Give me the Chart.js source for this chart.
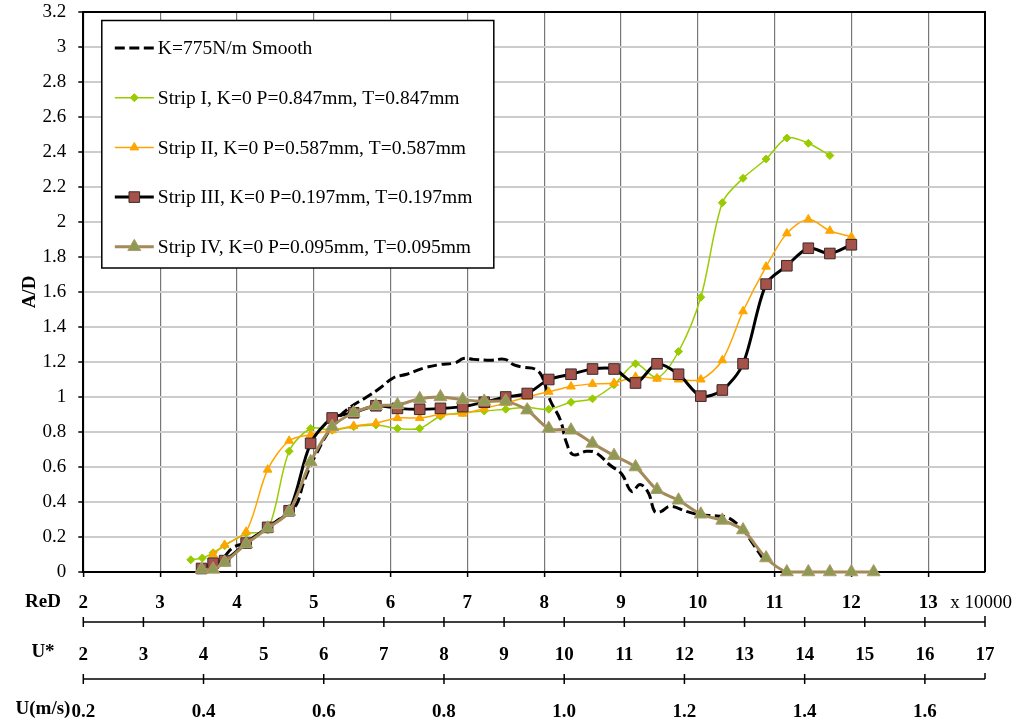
<!DOCTYPE html>
<html>
<head>
<meta charset="utf-8">
<script src="https://cdn.jsdelivr.net/npm/chart.js"></script>
<style>
  html, body { margin: 0; padding: 0; background: #fff; }
  #wrap { width: 1020px; height: 726px; }
</style>
</head>
<body>
<div id="wrap"><canvas id="amp" width="1020" height="726"></canvas></div>
<script>
// ReD values are in units of 10^4
const smoothRe = [3.84, 3.95, 4.12, 4.40, 4.68, 4.78, 4.86, 4.95, 5.04, 5.15, 5.30, 5.47, 5.69, 5.86, 6.04, 6.21, 6.43, 6.64, 6.84, 6.95, 7.08, 7.30, 7.49, 7.60, 7.73, 7.88, 7.97, 8.08, 8.21, 8.29, 8.38, 8.55, 8.68, 8.86, 9.01, 9.14, 9.25, 9.36, 9.44, 9.52, 9.64, 9.86, 10.03, 10.25, 10.40, 10.59, 10.72, 10.86];
const smoothAD = [0.09, 0.14, 0.17, 0.255, 0.345, 0.39, 0.50, 0.60, 0.68, 0.77, 0.87, 0.94, 1.00, 1.05, 1.11, 1.13, 1.165, 1.185, 1.195, 1.22, 1.215, 1.21, 1.215, 1.185, 1.17, 1.16, 1.12, 0.98, 0.87, 0.74, 0.67, 0.69, 0.68, 0.61, 0.56, 0.46, 0.50, 0.45, 0.345, 0.345, 0.375, 0.345, 0.327, 0.32, 0.31, 0.24, 0.16, 0.07];

const strip1Re = [3.40, 3.55, 3.69, 3.84, 4.12, 4.40, 4.68, 4.96, 5.24, 5.52, 5.81, 6.09, 6.38, 6.65, 6.94, 7.22, 7.50, 7.78, 8.06, 8.35, 8.63, 8.91, 9.19, 9.47, 9.75, 10.04, 10.32, 10.59, 10.89, 11.16, 11.44, 11.72];
const strip1AD = [0.07, 0.08, 0.11, 0.15, 0.22, 0.24, 0.69, 0.82, 0.81, 0.83, 0.84, 0.82, 0.82, 0.89, 0.91, 0.92, 0.93, 0.94, 0.93, 0.97, 0.99, 1.07, 1.19, 1.11, 1.26, 1.57, 2.11, 2.25, 2.36, 2.48, 2.45, 2.38];

const strip2Re = [3.69, 3.84, 4.12, 4.40, 4.68, 4.96, 5.24, 5.52, 5.81, 6.09, 6.38, 6.65, 6.94, 7.22, 7.50, 7.78, 8.06, 8.35, 8.63, 8.91, 9.19, 9.47, 9.75, 10.04, 10.32, 10.59, 10.89, 11.16, 11.44, 11.72, 12.00];
const strip2AD = [0.10, 0.155, 0.23, 0.585, 0.75, 0.785, 0.81, 0.835, 0.85, 0.88, 0.88, 0.90, 0.905, 0.935, 0.965, 1.00, 1.03, 1.06, 1.075, 1.08, 1.115, 1.105, 1.10, 1.10, 1.21, 1.49, 1.745, 1.935, 2.015, 1.95, 1.915];

const strip3Re = [3.54, 3.69, 3.84, 4.12, 4.40, 4.68, 4.96, 5.24, 5.52, 5.81, 6.09, 6.38, 6.65, 6.94, 7.22, 7.50, 7.78, 8.06, 8.35, 8.63, 8.91, 9.19, 9.47, 9.75, 10.04, 10.32, 10.59, 10.89, 11.16, 11.44, 11.72, 12.00];
const strip3AD = [0.02, 0.05, 0.065, 0.165, 0.255, 0.35, 0.735, 0.88, 0.91, 0.95, 0.935, 0.93, 0.935, 0.945, 0.97, 1.00, 1.02, 1.10, 1.13, 1.16, 1.16, 1.08, 1.19, 1.13, 1.005, 1.04, 1.19, 1.645, 1.75, 1.85, 1.82, 1.87];

const strip4Re = [3.54, 3.69, 3.84, 4.12, 4.40, 4.68, 4.96, 5.24, 5.52, 5.81, 6.09, 6.38, 6.65, 6.94, 7.22, 7.50, 7.78, 8.06, 8.35, 8.63, 8.91, 9.19, 9.47, 9.75, 10.04, 10.32, 10.59, 10.89, 11.16, 11.44, 11.72, 12.00, 12.29];
const strip4AD = [0.015, 0.015, 0.055, 0.16, 0.25, 0.345, 0.63, 0.83, 0.91, 0.95, 0.955, 0.99, 1.00, 0.985, 0.975, 0.975, 0.925, 0.82, 0.81, 0.735, 0.665, 0.60, 0.47, 0.41, 0.33, 0.295, 0.24, 0.08, 0, 0, 0, 0, 0];

const seriesNames = [
    'K=775N/m Smooth',
    'Strip I, K=0 P=0.847mm, T=0.847mm',
    'Strip II, K=0 P=0.587mm, T=0.587mm',
    'Strip III, K=0 P=0.197mm, T=0.197mm',
    'Strip IV, K=0 P=0.095mm, T=0.095mm'
];

// three stacked x axes: ReD (x 10000), U* and U(m/s)
const reRange = [2, 13.74];
const uStarRange = [2, 17];
const uRange = [0.2, 1.7];
const axisNames = ['ReD', 'U*', 'U(m/s)'];

const SERIF = '"Liberation Serif", "Times New Roman", serif';
const FS = 19;
Chart.defaults.font.family = SERIF;
Chart.defaults.color = '#000';

const pts = (xs, ys) => xs.map((x, i) => ({ x: x, y: ys[i] }));

const datasets = [
    {
        label: seriesNames[0], data: pts(smoothRe, smoothAD),
        borderColor: '#000', borderWidth: 3, borderDash: [10, 4.5],
        pointRadius: 0, tension: 0.4, order: 5
    },
    {
        label: seriesNames[1], data: pts(strip1Re, strip1AD),
        borderColor: '#99CC00', borderWidth: 1.5,
        pointStyle: 'rectRot', pointRadius: 4, pointBackgroundColor: '#99CC00',
        pointBorderColor: '#99CC00', pointBorderWidth: 1, tension: 0.3, order: 4
    },
    {
        label: seriesNames[2], data: pts(strip2Re, strip2AD),
        borderColor: '#FFA500', borderWidth: 1.5,
        pointStyle: 'triangle', pointRadius: 5, pointBackgroundColor: '#FFA500',
        pointBorderColor: '#FFA500', pointBorderWidth: 1, tension: 0.3, order: 3
    },
    {
        label: seriesNames[3], data: pts(strip3Re, strip3AD),
        borderColor: '#000', borderWidth: 3,
        pointStyle: 'rect', pointRadius: 7.5, pointBackgroundColor: '#A5524B',
        pointBorderColor: '#3A2A28', pointBorderWidth: 1, tension: 0.3, order: 2
    },
    {
        label: seriesNames[4], data: pts(strip4Re, strip4AD),
        borderColor: '#A38A58', borderWidth: 3,
        pointStyle: 'triangle', pointRadius: 7.5, pointBackgroundColor: '#8C9A53',
        pointBorderColor: '#B09A6A', pointBorderWidth: 1, tension: 0.3, order: 1
    }
];
datasets.forEach(d => { d.clip = false; d.fill = false; });

// top and right edges of the plot frame
const plotFrame = {
    id: 'plotFrame',
    beforeDatasetsDraw(chart) {
        const { ctx, chartArea: a } = chart;
        ctx.save();
        ctx.strokeStyle = '#000';
        ctx.lineWidth = 2;
        ctx.beginPath();
        ctx.moveTo(a.left, a.top);
        ctx.lineTo(a.right, a.top);
        ctx.lineTo(a.right, a.bottom);
        ctx.stroke();
        ctx.restore();
    }
};

// boxed legend inside the plot
const boxLegend = {
    id: 'boxLegend',
    afterDatasetsDraw(chart) {
        const { ctx, chartArea: a } = chart;
        const left = a.left + 18.5, top = a.top + 8.5, w = 392, h = 247.5;
        ctx.save();
        ctx.fillStyle = '#fff';
        ctx.fillRect(left, top, w, h);
        ctx.strokeStyle = '#000';
        ctx.lineWidth = 1.5;
        ctx.strokeRect(left, top, w, h);
        chart.data.datasets.forEach((ds, i) => {
            const y = top + 27.5 + i * 49.7;
            const x0 = left + 13, x1 = left + 52;
            ctx.save();
            ctx.strokeStyle = ds.borderColor;
            ctx.lineWidth = ds.borderWidth;
            ctx.setLineDash(ds.borderDash || []);
            ctx.beginPath();
            ctx.moveTo(x0, y);
            ctx.lineTo(x1, y);
            ctx.stroke();
            ctx.restore();
            if (ds.pointRadius > 0) {
                ctx.save();
                ctx.fillStyle = ds.pointBackgroundColor;
                ctx.strokeStyle = ds.pointBorderColor;
                ctx.lineWidth = ds.pointBorderWidth;
                Chart.helpers.drawPoint(ctx, {
                    pointStyle: ds.pointStyle, radius: ds.pointRadius,
                    rotation: 0, borderWidth: ds.pointBorderWidth
                }, (x0 + x1) / 2, y);
                ctx.restore();
            }
            ctx.fillStyle = '#000';
            ctx.font = '19.5px ' + SERIF;
            ctx.textAlign = 'left';
            ctx.textBaseline = 'middle';
            ctx.fillText(ds.label, x1 + 4, y + 1);
        });
        ctx.restore();
    }
};

// lines of the U* and U axes, axis names and the ReD multiplier
const lowerAxes = {
    id: 'lowerAxes',
    afterDraw(chart) {
        const { ctx } = chart;
        const sx = chart.scales.x, su = chart.scales.ustar, sm = chart.scales.ums;
        ctx.save();
        ctx.strokeStyle = '#000';
        ctx.lineWidth = 1.5;
        [su, sm].forEach(s => {
            const y = s.top;
            ctx.beginPath();
            ctx.moveTo(s.left, y);
            ctx.lineTo(s.right, y);
            s.ticks.forEach(t => {
                const px = s.getPixelForValue(t.value);
                ctx.moveTo(px, y - 5);
                ctx.lineTo(px, y + 5);
            });
            ctx.moveTo(s.right, y - 6);
            ctx.lineTo(s.right, y);
            ctx.stroke();
        });
        ctx.fillStyle = '#000';
        ctx.textBaseline = 'middle';
        ctx.textAlign = 'center';
        ctx.font = 'bold ' + FS + 'px ' + SERIF;
        [sx, su, sm].forEach((s, i) => {
            ctx.fillText(axisNames[i], 43, s.top + 30);
        });
        ctx.textAlign = 'left';
        ctx.font = FS + 'px ' + SERIF;
        ctx.fillText('x 10000', sx.getPixelForValue(13) + 22, sx.top + 31);
        ctx.restore();
    }
};

new Chart(document.getElementById('amp').getContext('2d'), {
    type: 'line',
    data: { datasets: datasets },
    options: {
        responsive: false,
        animation: false,
        layout: { padding: { top: 12, right: 35, bottom: 0, left: 0 } },
        plugins: {
            legend: { display: false },
            tooltip: { enabled: false }
        },
        scales: {
            x: {
                type: 'linear', position: 'bottom', weight: 0,
                min: reRange[0], max: reRange[1],
                afterFit(s) { s.height = 50; },
                border: { color: '#000', width: 2 },
                grid: { color: '#777', lineWidth: 1.2, tickLength: 5, tickColor: '#000', tickWidth: 1.5 },
                ticks: {
                    stepSize: 1, includeBounds: false, autoSkip: false, maxRotation: 0,
                    padding: 15, font: { size: FS, weight: 'bold' }
                }
            },
            ustar: {
                type: 'linear', position: 'bottom', weight: 1,
                min: uStarRange[0], max: uStarRange[1],
                afterFit(s) { s.height = 57; },
                border: { display: false },
                grid: { display: false, drawOnChartArea: false },
                ticks: {
                    stepSize: 1, includeBounds: false, autoSkip: false, maxRotation: 0,
                    padding: 13.5, font: { size: FS, weight: 'bold' }
                }
            },
            ums: {
                type: 'linear', position: 'bottom', weight: 2,
                min: uRange[0], max: uRange[1],
                afterFit(s) { s.height = 47; },
                border: { display: false },
                grid: { display: false, drawOnChartArea: false },
                ticks: {
                    stepSize: 0.2, includeBounds: false, autoSkip: false, maxRotation: 0,
                    padding: 13.5, font: { size: FS, weight: 'bold' },
                    callback: v => v.toFixed(1)
                }
            },
            y: {
                min: 0, max: 3.2,
                afterFit(s) { s.width = 83.3; s.paddingTop = 0; s.paddingBottom = 0; },
                border: { color: '#000', width: 2 },
                grid: { color: '#cccccc', lineWidth: 2, tickLength: 5, tickColor: '#000', tickWidth: 1.5 },
                ticks: {
                    stepSize: 0.2, padding: 12, font: { size: FS },
                    callback: v => String(Math.round(v * 10) / 10)
                },
                title: {
                    display: true, text: 'A/D',
                    font: { size: FS, weight: 'bold' },
                    padding: { top: 19, bottom: 0 }
                }
            }
        }
    },
    plugins: [plotFrame, boxLegend, lowerAxes]
});
</script>
</body>
</html>
